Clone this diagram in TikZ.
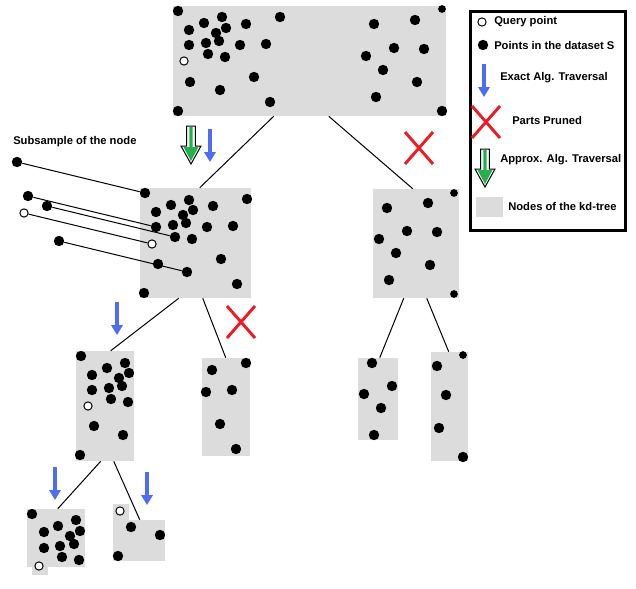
\documentclass[tikz,border=0pt]{standalone}
\usepackage{fontspec}
\setmainfont{Liberation Sans}
\usetikzlibrary{arrows.meta,calc,fit}
\definecolor{boxgray}{RGB}{220,220,220}
\definecolor{exactblue}{RGB}{77,109,243}
\definecolor{prunedred}{RGB}{237,28,36}
\definecolor{approxgreen}{RGB}{34,177,76}
\tikzset{
  kdnode/.style={fill=boxgray, inner sep=0pt},
  pointdot/.style={circle, fill=black, inner sep=0pt, minimum size=7.8pt},
  query/.style={circle, draw=black, fill=white, line width=0.75pt, inner sep=0pt, minimum size=6.2pt},
  treeedge/.style={line width=0.75pt},
  legtext/.style={font=\fontsize{8.4}{10}\selectfont\bfseries, anchor=base west, inner sep=0pt},
  legendbox/.style={draw=black, line width=2.25pt, fill=white, inner sep=0pt},
  exact/.pic={\draw[line width=2.3pt, exactblue, -{Triangle[width=8.5pt,length=7.5pt]}] (0,0) -- (0,33);},
  approx/.pic={
    \filldraw[fill=white, draw=black, line width=0.75pt] (-4.3,0) -- (4.3,0) -- (4.3,20) -- (10,20) -- (0,38) -- (-10,20) -- (-4.3,20) -- cycle;
    \fill[approxgreen] (-1.6,1) rectangle (1.6,21) (-7.5,21) -- (7.5,21) -- (0,35) -- cycle;},
  pruned/.pic={\draw[line width=2.2pt, prunedred] (-14,-16) -- (14,16) (-14,16) -- (14,-16);}
}

\begin{document}
\begin{tikzpicture}[x=0.75pt, y=-0.75pt]
  \useasboundingbox (0,0) rectangle (636,589);
  % kd-tree nodes
  \node[kdnode, fit={(173,6) (446,116)}] (root) {};
  \node[kdnode, fit={(140,188) (251,298)}] (n1) {};
  \node[kdnode, fit={(373,189) (459,298)}] (n2) {};
  \node[kdnode, fit={(76,351) (134,461)}] (n11) {};
  \node[kdnode, fit={(202,358) (250,456)}] (n12) {};
  \node[kdnode, fit={(358,358) (398,440)}] (n21) {};
  \node[kdnode, fit={(431,352) (468,461)}] (n22) {};
  \node[kdnode, fit={(27,509) (85,567)}] (n111) {};
  \node[kdnode, fit={(113,520) (165,561)}] (n112) {};
  \fill[boxgray] ($(n111.south west)+(5,0)$) rectangle +(16,8);
  \fill[boxgray] (n112.north west) rectangle +(16,-16);
  % tree edges
  \draw[treeedge] ($(root.south west)+(101,0)$) -- ($(n1.north west)+(60,0)$);
  \draw[treeedge] ($(root.south west)+(156,0)$) -- ($(n2.north west)+(40,0)$);
  \draw[treeedge] ($(n1.south west)+(39,0)$) -- ($(n11.north west)+(35,0)$);
  \draw[treeedge] ($(n1.south west)+(63,0)$) -- ($(n12.north west)+(24,0)$);
  \draw[treeedge] ($(n2.south west)+(31,0)$) -- ($(n21.north west)+(22,0)$);
  \draw[treeedge] ($(n2.south west)+(54,0)$) -- ($(n22.north west)+(18,0)$);
  \draw[treeedge] ($(n11.south west)+(25,0)$) -- ($(n111.north west)+(31,0)$);
  \draw[treeedge] ($(n11.south west)+(38,0)$) -- ($(n112.north west)+(27,0)$);
  % subsample of the node
  \node[legtext] (sub) at (13,144) {Subsample of the node};
  \node[pointdot] (s1) at (17,162) {};
  \node[pointdot] (s2) at (28,196) {};
  \node[pointdot] (s3) at (47,206) {};
  \node[query] (s4) at (24,213) {};
  \node[pointdot] (s5) at (59,241) {};
  \node[pointdot] (t1) at (145,193) {};
  \node[pointdot] (t2) at (156,227) {};
  \node[pointdot] (t3) at (175,237) {};
  \node[query] (q1) at (152,244) {};
  \node[pointdot] (t5) at (187,272) {};
  \draw[treeedge] (s1) -- (t1);
  \draw[treeedge] (s2) -- (t2);
  \draw[treeedge] (s3) -- (t3);
  \draw[treeedge] (s4) -- (q1);
  \draw[treeedge] (s5) -- (t5);
  % points of the dataset
  \foreach \x/\y in {178/11,222/17,280/17,204/23,189/30,226/28,246/24,216/33,374/24,415/20,
      189/45,206/43,219/41,240/45,266/44,394/48,424/49,366/56,208/54,225/57,383/70,190/82,
      254/77,417/82,220/90,376/97,270/102,178/111,442/111,
      247/199,171/205,189/200,213/206,156/212,193/210,183/215,173/225,186/223,207/227,
      233/226,192/239,221/259,158/264,237/284,144/293,
      387/208,428/203,407/231,437/232,379/239,396/253,430/265,389/280,
      81/356,125/363,107/368,92/375,129/373,119/378,122/386,109/388,92/390,111/399,
      128/402,94/426,123/435,80/455,
      212/370,246/363,206/392,232/390,220/424,236/449,
      372/363,392/386,364/394,381/408,374/435,
      437/366,446/395,439/428,463/457,
      32/514,76/520,58/526,44/532,80/531,70/536,74/544,60/546,44/548,62/557,79/560,
      131/527,160/535,118/556}
    \fill (\x,\y) circle[radius=3.9pt];
  \foreach \x/\y in {442/9,454/193,454/294,463/355}
    \fill (\x,\y) circle[radius=2.9pt];
  % query point in the nodes
  \node[query] (q0) at (184,61) {};
  \node[query] (q11) at (88,406) {};
  \node[query] (q111) at (39,566) {};
  \node[query] (q112) at (120,511) {};
  % traversals and pruning
  \pic at (191,126) {approx};
  \pic at (210,129) {exact};
  \pic at (419,148) {pruned};
  \pic at (117,302) {exact};
  \pic at (241,322) {pruned};
  \pic at (55,467) {exact};
  \pic at (147,472) {exact};
  % legend
  \node[legendbox, fit={(470.5,11.5) (625.5,230.5)}] (legend) {};
  \node[query] (lq) at (482,22) {};
  \node[legtext] (lqt) at (494,25) {Query point};
  \node[pointdot] (lp) at (483,45) {};
  \node[legtext] (lpt) at (494,49) {Points in the dataset S};
  \pic at (484,64) {exact};
  \node[legtext] (let) at (500,80) {Exact Alg. Traversal};
  \pic at (486,122) {pruned};
  \node[legtext] (lxt) at (512,124) {Parts Pruned};
  \pic at (485,149) {approx};
  \node[legtext] (lat) at (500,162) {Approx. Alg. Traversal};
  \node[kdnode, fit={(476,197) (503,217)}] (ln) {};
  \node[legtext] (lnt) at (508,210) {Nodes of the kd-tree};
\end{tikzpicture}
\end{document}
